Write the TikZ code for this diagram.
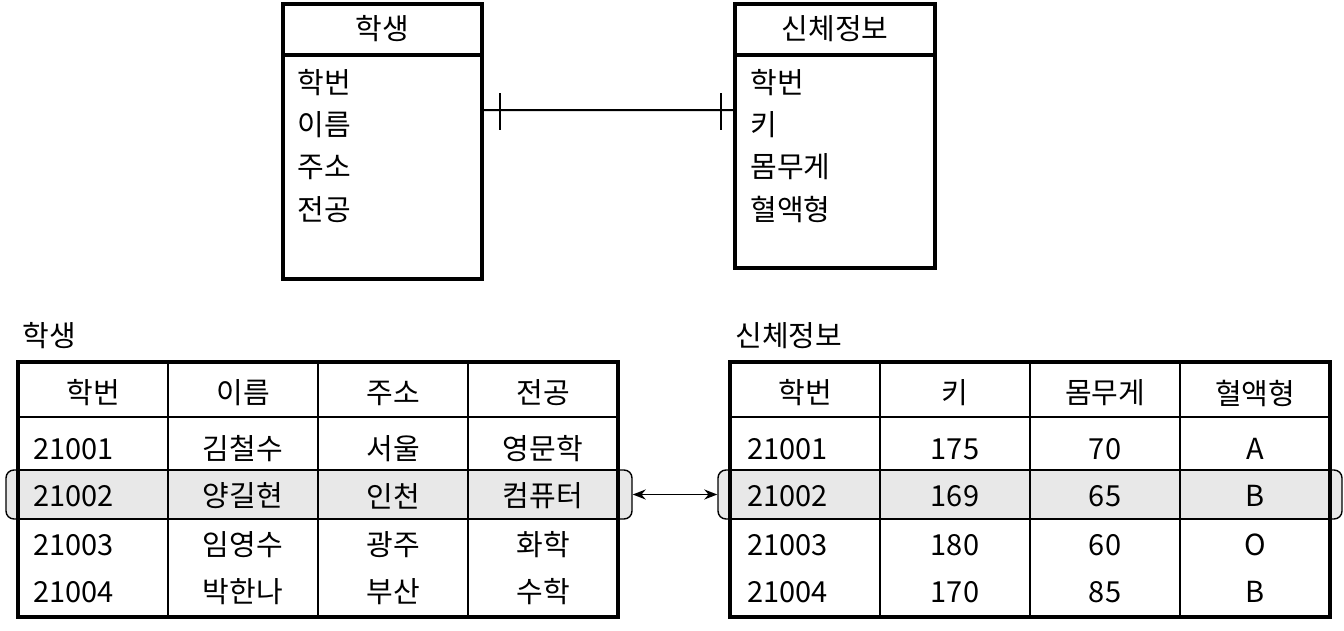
\documentclass[tikz,border=0pt]{standalone}
\usepackage{fontspec}
\setmainfont{Noto Sans CJK KR}
\usetikzlibrary{arrows.meta,calc}

\tikzset{
  entity/.style={draw, line width=2.2pt, minimum width=39.8mm, inner sep=0pt},
  frame/.style={line width=2.2pt},
  thinline/.style={line width=1.1pt},
  hlrow/.style={draw, line width=0.8pt, fill=gray!18, rounded corners=1.6mm, minimum height=9.8mm, inner sep=0pt},
  txt/.style={inner sep=0pt},
}

\begin{document}
\begin{tikzpicture}[x=0.2mm, y=-0.2mm, every node/.style={font=\fontsize{16.5}{19}\selectfont}]
    \useasboundingbox (0,0) rectangle (1344,630);

    %! --- ER diagram ---
    % Entity boxes
    \node[entity, minimum height=55mm] (stu) at (382.5,141.5) {};
    \node[entity, minimum width=40mm, minimum height=52.8mm] (body) at (835,136) {};
    \draw[frame] ($(stu.north west)+(0,53)$) -- ($(stu.north east)+(0,53)$);
    \draw[frame] ($(body.north west)+(0,53)$) -- ($(body.north east)+(0,53)$);
    \node[txt] (stuT) at ($(stu.north)+(0,27)$) {학생};
    \node[txt] (bodyT) at ($(body.north)+(0,27)$) {신체정보};
    % Attributes
    \foreach \a [count=\i] in {학번,이름,주소,전공} {
        \node[txt, anchor=west] (stuA\i) at ($(stu.north west)+(16,38+42.3*\i)$) {\a};
    }
    \foreach \a [count=\i] in {학번,키,몸무게,혈액형} {
        \node[txt, anchor=west] (bodyA\i) at ($(body.north west)+(17,38+42.3*\i)$) {\a};
    }
    % One-to-one relation
    \coordinate (relL) at ($(stu.north east)+(0,108)$);
    \coordinate (relR) at ($(body.north west)+(0,108)$);
    \draw[thinline] (relL) -- (relR);
    \draw[thinline] ($(relL)+(16,-17)$) -- ($(relL)+(16,20)$);
    \draw[thinline] ($(relR)+(-12,-17)$) -- ($(relR)+(-12,20)$);

    %! --- Tables ---
    \node[txt, anchor=west] (stuLbl) at (22,336) {학생};
    \node[txt, anchor=west] (bodyLbl) at (735,336) {신체정보};

    % Highlighted rows
    \node[hlrow, minimum width=125.2mm] (hlS) at (319,494.5) {};
    \node[hlrow, minimum width=124.8mm] (hlB) at (1030,494.5) {};

    % Student table
    \foreach \x in {168,318,468} {
        \draw[thinline] (\x,362) -- (\x,617);
    }
    \foreach \y in {417,470,519} {
        \draw[thinline] (18,\y) -- (618,\y);
    }
    \draw[frame] (18,362) rectangle (618,617);
    \foreach \h [count=\j] in {학번,이름,주소,전공} {
        \node[txt] (sh\j) at (150*\j-57,393) {\h};
    }
    \foreach \y/\a/\b/\c/\d [count=\i] in {449/21001/김철수/서울/영문학, 496/21002/양길현/인천/컴퓨터, 545/21003/임영수/광주/화학, 592/21004/박한나/부산/수학} {
        \node[txt, anchor=west] (s\i-1) at (33,\y) {\a};
        \node[txt] (s\i-2) at (243,\y) {\b};
        \node[txt] (s\i-3) at (393,\y) {\c};
        \node[txt] (s\i-4) at (543,\y) {\d};
    }

    % Body info table
    \foreach \x in {880,1030,1180} {
        \draw[thinline] (\x,362) -- (\x,617);
    }
    \foreach \y in {417,470,519} {
        \draw[thinline] (730,\y) -- (1330,\y);
    }
    \draw[frame] (730,362) rectangle (1330,617);
    \foreach \h [count=\j] in {학번,키,몸무게,혈액형} {
        \node[txt] (bh\j) at (150*\j+655,393) {\h};
    }
    \foreach \y/\a/\b/\c/\d [count=\i] in {449/21001/175/70/A, 496/21002/169/65/B, 545/21003/180/60/O, 592/21004/170/85/B} {
        \node[txt, anchor=west] (b\i-1) at (747,\y) {\a};
        \node[txt] (b\i-2) at (955,\y) {\b};
        \node[txt] (b\i-3) at (1105,\y) {\c};
        \node[txt] (b\i-4) at (1255,\y) {\d};
    }

    % Matching rows
    \draw[{Stealth[length=2.6mm,width=2mm]}-{Stealth[length=2.6mm,width=2mm]}, line width=1pt] (hlS.east) -- (hlB.west);
\end{tikzpicture}
\end{document}
